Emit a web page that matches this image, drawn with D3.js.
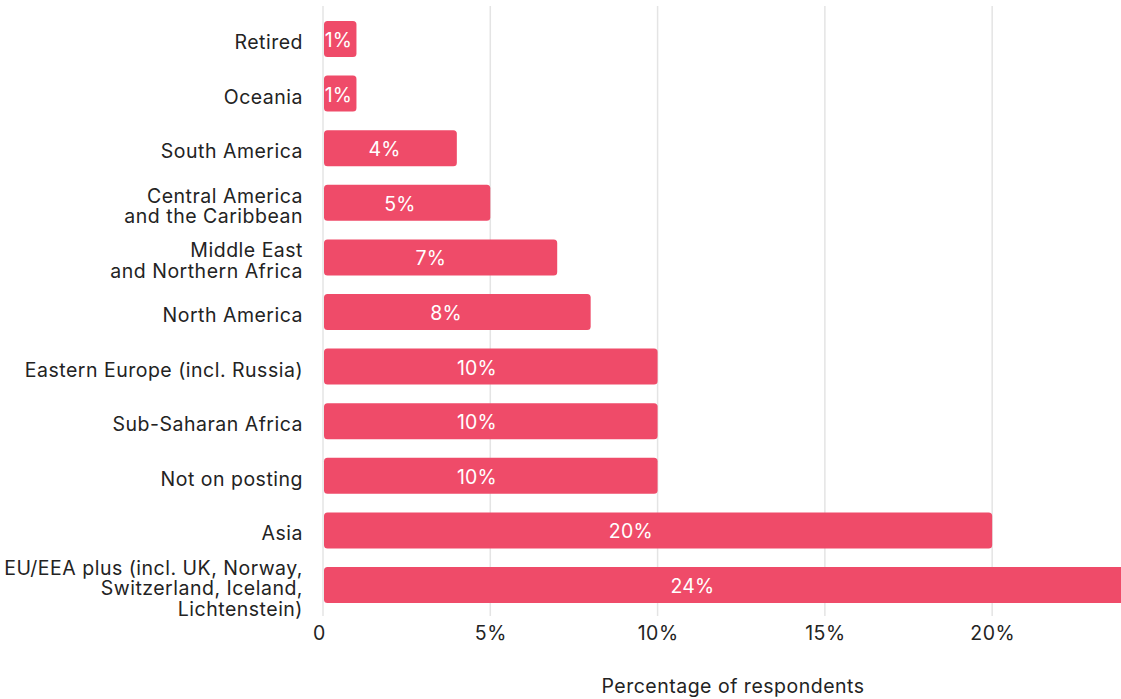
<!DOCTYPE html>
<html>
<head>
<meta charset="utf-8">
<script src="https://cdn.jsdelivr.net/npm/d3@7"></script>
<style>
  html, body { margin: 0; padding: 0; background: #fff; }
  svg { display: block; font-family: Inter, "Noto Sans", sans-serif; letter-spacing: 0.5px; }
</style>
</head>
<body>
<svg id="chart" width="1121" height="699"></svg>
<script>
// Where respondents are posted, share of all respondents (%)
const categories = [
  ["Retired"],
  ["Oceania"],
  ["South America"],
  ["Central America", "and the Caribbean"],
  ["Middle East", "and Northern Africa"],
  ["North America"],
  ["Eastern Europe (incl. Russia)"],
  ["Sub-Saharan Africa"],
  ["Not on posting"],
  ["Asia"],
  ["EU/EEA plus (incl. UK, Norway,", "Switzerland, Iceland,", "Lichtenstein)"]
];
const values = [1, 1, 4, 5, 7, 8, 10, 10, 10, 20, 24];
const tickValues = [0, 5, 10, 15, 20];
const axisTitle = "Percentage of respondents";

const rows = categories.map((lines, i) => ({ key: lines.join(" "), lines, value: values[i] }));

const svg = d3.select("#chart");
const barColor = "#ef4b69";
const textColor = "#232323";
const fontSize = 19.5;

const x = d3.scaleLinear().domain([0, 24]).range([323, 1126]);
const y = d3.scaleBand()
  .domain(rows.map(d => d.key))
  .range([11.7, 612.3])
  .paddingInner(0.34)
  .paddingOuter(0.17);

// vertical gridlines
svg.append("g")
  .selectAll("line")
  .data(tickValues)
  .join("line")
  .attr("x1", d => x(d)).attr("x2", d => x(d))
  .attr("y1", 6).attr("y2", 616)
  .attr("stroke", "#e4e4e4")
  .attr("stroke-width", 1.5);

// bars
svg.append("g")
  .selectAll("rect")
  .data(rows)
  .join("rect")
  .attr("x", x(0) + 1)
  .attr("y", d => y(d.key))
  .attr("width", d => x(d.value) - x(0) - 1)
  .attr("height", y.bandwidth())
  .attr("rx", 3.5)
  .attr("fill", barColor);

// value labels inside bars
svg.append("g")
  .selectAll("text")
  .data(rows)
  .join("text")
  .attr("x", d => x(0) + (x(d.value) - x(0)) * 0.46)
  .attr("y", d => y(d.key) + y.bandwidth() / 2 + 1)
  .attr("text-anchor", "middle")
  .attr("dominant-baseline", "central")
  .attr("fill", "#fff")
  .attr("font-size", fontSize)
  .style("letter-spacing", "0.2px")
  .text(d => d.value + "%");

// category labels
const cat = svg.append("g")
  .selectAll("text")
  .data(rows)
  .join("text")
  .attr("text-anchor", "end")
  .attr("fill", textColor)
  .attr("font-size", fontSize)
  .attr("transform", d => `translate(303, ${y(d.key) + y.bandwidth() / 2 + 3})`);
const lh = 20.5;
cat.selectAll("tspan")
  .data(d => d.lines.map((t, i) => ({ t, i, n: d.lines.length })))
  .join("tspan")
  .attr("x", 0)
  .attr("y", d => (d.i - (d.n - 1) / 2) * lh)
  .attr("dominant-baseline", "central")
  .text(d => d.t);

// x axis tick labels
const axis = d3.axisBottom(x)
  .tickValues(tickValues)
  .tickSize(0)
  .tickPadding(0)
  .tickFormat(d => d === 0 ? "0" : d + "%");
const gx = svg.append("g").attr("transform", "translate(0, 630)").call(axis);
gx.select(".domain").remove();
gx.selectAll("text")
  .attr("font-size", fontSize)
  .attr("font-family", "Inter, 'Noto Sans', sans-serif")
  .attr("fill", textColor)
  .attr("dy", "0.5em");
gx.selectAll(".tick").filter(d => d === 0).select("text").attr("dx", -4);

// axis title
svg.append("text")
  .attr("x", 733)
  .attr("y", 686)
  .attr("text-anchor", "middle")
  .attr("dominant-baseline", "central")
  .attr("fill", textColor)
  .attr("font-size", fontSize)
  .text(axisTitle);
</script>
</body>
</html>
